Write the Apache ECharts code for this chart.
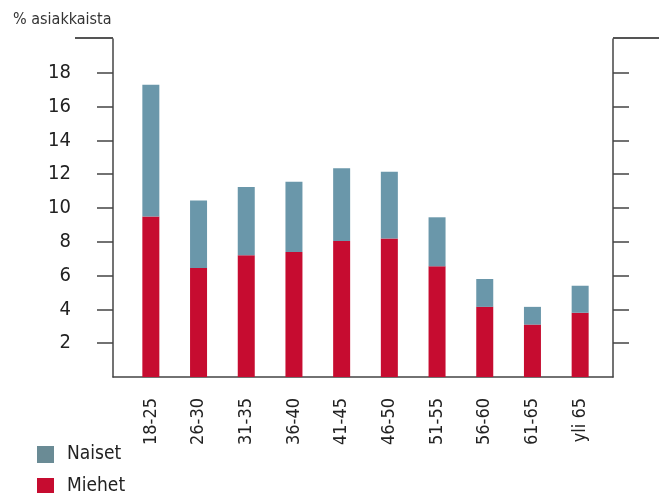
<!DOCTYPE html>
<html>
<head>
<meta charset="utf-8">
<script src="https://cdn.jsdelivr.net/npm/echarts@6/dist/echarts.min.js"></script>
<style>
html,body{margin:0;padding:0;background:#fff;}
#chart{width:663px;height:493px;}
</style>
</head>
<body>
<div id="chart"></div>
<script>
// ikäryhmät
var categories = ['18-25', '26-30', '31-35', '36-40', '41-45', '46-50', '51-55', '56-60', '61-65', 'yli 65'];
// miehet (alaosa) ja naiset (yläosa), % asiakkaista
var miehet = [9.5, 6.45, 7.2, 7.4, 8.05, 8.2, 6.55, 4.15, 3.1, 3.8];
var naiset = [7.8, 4.0, 4.05, 4.15, 4.3, 3.95, 2.9, 1.65, 1.05, 1.6];
var yTicks = [2, 4, 6, 8, 10, 12, 14, 16, 18];

var font = "'DejaVu Sans Condensed', 'Liberation Sans Narrow', sans-serif";
var lineColor = '#444';
var red = '#c60c30';
var blue = '#6a97aa';

var chart = echarts.init(document.getElementById('chart'));

// y-akseli, sama vasemmalle ja oikealle
function frameAxis(pos, labels) {
    return {
        gridIndex: 0, type: 'value', min: 0, max: 20, interval: 2, position: pos,
        axisLine: { show: true, lineStyle: { color: lineColor, width: 1.5 } },
        axisTick: { show: true, length: 16, customValues: yTicks, lineStyle: { color: lineColor, width: 1.5 } },
        axisLabel: {
            show: labels, customValues: yTicks,
            margin: 42, fontSize: 20, color: '#222', fontFamily: font
        },
        splitLine: { show: false }
    };
}

function legendItem(name, color, top) {
    return {
        left: 37, top: top, padding: 0,
        itemWidth: 17, itemHeight: 17, icon: 'rect',
        textStyle: { fontFamily: font, fontSize: 19, color: '#222', padding: [0, 0, 0, 8] },
        data: [{ name: name, itemStyle: { color: color } }]
    };
}

chart.setOption({
    animation: false,
    textStyle: { fontFamily: font, color: '#222' },
    title: {
        text: '% asiakkaista',
        left: 13, top: 12, padding: 0,
        textStyle: { fontFamily: font, fontSize: 16, fontWeight: 'normal', color: '#333' }
    },
    legend: [
        legendItem('Naiset', '#6a8b95', 445),
        legendItem('Miehet', red, 477)
    ],
    grid: [
        // kehys
        { left: 113, right: 50, top: 39, bottom: 116 },
        // pylväät
        { left: 127, right: 59, top: 39, bottom: 116 }
    ],
    xAxis: [
        {
            gridIndex: 0, type: 'category', data: categories,
            axisLine: { lineStyle: { color: lineColor, width: 1.5 } },
            axisTick: { show: false }, axisLabel: { show: false }
        },
        {
            gridIndex: 1, type: 'category', data: categories,
            axisLine: { show: false }, axisTick: { show: false },
            axisLabel: {
                rotate: 90, margin: 21, fontSize: 18, color: '#222', fontFamily: font
            }
        }
    ],
    yAxis: [
        frameAxis('left', true),
        frameAxis('right', false),
        {
            gridIndex: 1, type: 'value', min: 0, max: 20, show: false,
            splitLine: { show: false }
        }
    ],
    graphic: [
        { type: 'line', shape: { x1: 75, y1: 38, x2: 113, y2: 38 }, style: { stroke: '#555', lineWidth: 2 } },
        { type: 'line', shape: { x1: 613, y1: 38, x2: 659, y2: 38 }, style: { stroke: '#555', lineWidth: 2 } }
    ],
    series: [
        {
            name: 'Miehet', type: 'bar', stack: 'a', xAxisIndex: 1, yAxisIndex: 2,
            barWidth: 17, data: miehet, itemStyle: { color: red }
        },
        {
            name: 'Naiset', type: 'bar', stack: 'a', xAxisIndex: 1, yAxisIndex: 2,
            barWidth: 17, data: naiset, itemStyle: { color: blue }
        }
    ]
});
</script>
</body>
</html>
